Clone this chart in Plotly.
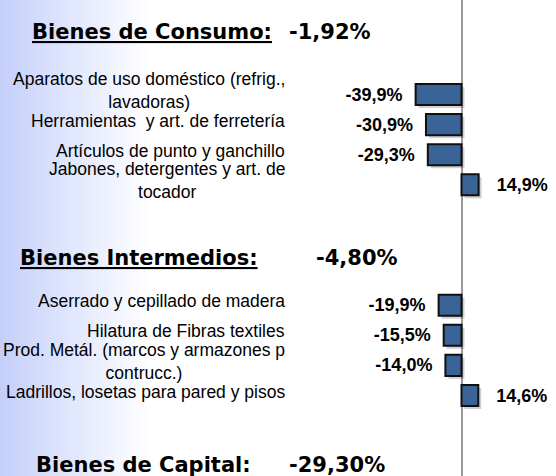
import plotly.graph_objects as go

# ---- data ----
consumo_labels = [
    "Aparatos de uso doméstico (refrig.,<br>lavadoras)",
    "Herramientas\u00a0 y art. de ferretería",
    "Artículos de punto y ganchillo",
    "Jabones, detergentes y art. de<br>tocador",
]
consumo_values = [-39.9, -30.9, -29.3, 14.9]

intermedios_labels = [
    "Aserrado y cepillado de madera",
    "Hilatura de Fibras textiles",
    "Prod. Metál. (marcos y armazones p<br>contrucc.)",
    "Ladrillos, losetas para pared y pisos",
]
intermedios_values = [-19.9, -15.5, -14.0, 14.6]

spacers = [" ", "  ", "   "]

group_titles = ["Bienes de Consumo:", "Bienes Intermedios:", "Bienes de Capital:"]
group_totals = ["-1,92%", "-4,80%", "-29,30%"]
group_underlined = [True, True, False]

# ---- derived ----
categories = consumo_labels + spacers + intermedios_labels
bar_labels = consumo_labels + intermedios_labels
bar_values = consumo_values + intermedios_values


def fmt(v):
    s = f"{v:.1f}".replace(".", ",") + "%"
    return s + "\u00a0\u00a0" if v < 0 else "\u00a0\u00a0\u00a0" + s


W, H = 556, 476
zero_px = 461.5
px_per_unit = 1.15
slot = 30.1
first_center = 94.5
shadow_dx, shadow_dy = 3, 3

fig = go.Figure()

# background gradient (decorative panel on the left)
fig.add_trace(go.Scatter(
    x=[0, 150 / W, 150 / W, 0, 0], y=[0, 0, 1, 1, 0],
    mode="none", fill="toself",
    fillgradient=dict(type="horizontal",
                      colorscale=[[0, "#c4cff9"], [0.5, "#e2e8fd"], [1, "#ffffff"]]),
    hoverinfo="skip", showlegend=False, xaxis="x", yaxis="y",
))

# soft drop shadow of the bars
fig.add_trace(go.Bar(
    x=bar_values, y=bar_labels, orientation="h",
    marker=dict(color="rgba(0,0,0,0.18)", line=dict(width=0)),
    hoverinfo="skip", showlegend=False, xaxis="x2", yaxis="y2",
))

fig.add_trace(go.Bar(
    x=bar_values, y=bar_labels, orientation="h",
    marker=dict(color="#3a6398", line=dict(color="#101010", width=2)),
    text=[fmt(v) for v in bar_values], textposition="outside", constraintext="none",
    textfont=dict(family="Liberation Sans, Arial", size=18, color="black", weight="bold"),
    cliponaxis=False, showlegend=False, xaxis="x3", yaxis="y3",
))

x_lo = -zero_px / px_per_unit
x_hi = (W - zero_px) / px_per_unit
y_top = -first_center / slot
y_bot = (H - first_center) / slot
dxu = shadow_dx / px_per_unit
dyu = shadow_dy / slot

common_y = dict(type="category", categoryorder="array", categoryarray=categories,
                showgrid=False, showticklabels=False, ticks="", zeroline=False)

fig.update_layout(
    width=W, height=H,
    margin=dict(l=0, r=0, t=0, b=0),
    paper_bgcolor="white", plot_bgcolor="rgba(0,0,0,0)",
    bargap=0.3,
    xaxis=dict(domain=[0, 1], range=[0, 1], visible=False, fixedrange=True),
    yaxis=dict(domain=[0, 1], range=[0, 1], visible=False, fixedrange=True),
    xaxis2=dict(overlaying="x", range=[x_lo - dxu, x_hi - dxu], visible=False),
    yaxis2=dict(overlaying="y", range=[y_bot - dyu, y_top - dyu], visible=False, **common_y),
    xaxis3=dict(overlaying="x", range=[x_lo, x_hi],
                showgrid=False, showticklabels=False, ticks="",
                zeroline=True, zerolinecolor="#9a9a9a", zerolinewidth=2),
    yaxis3=dict(overlaying="y", range=[y_bot, y_top], **common_y),
)

annotations = []
for lab in bar_labels:
    annotations.append(dict(
        x=287 / W, xref="paper", xanchor="right",
        y=categories.index(lab), yref="y3", yanchor="middle", yshift=4,
        text=lab, align="center", showarrow=False,
        font=dict(family="Liberation Sans, Arial", size=17.5, color="black"),
    ))

title_pos = [(30, 287, 32), (18, 314, 258), (34, 287, 465)]
for (tx, vx, ty), t, v, u in zip(title_pos, group_titles, group_totals, group_underlined):
    annotations.append(dict(
        x=tx / W, xref="paper", xanchor="left", y=1 - ty / H, yref="paper", yanchor="middle",
        text=f"<u>{t}</u>" if u else t, showarrow=False,
        font=dict(family="DejaVu Sans", size=21, color="black", weight="bold"),
    ))
    annotations.append(dict(
        x=vx / W, xref="paper", xanchor="left", y=1 - ty / H, yref="paper", yanchor="middle",
        text=v, showarrow=False,
        font=dict(family="DejaVu Sans", size=21, color="black", weight="bold"),
    ))

fig.update_layout(annotations=annotations)

fig.write_html("out.html", config={"displayModeBar": False},
               post_script="document.body.style.margin='0';")
